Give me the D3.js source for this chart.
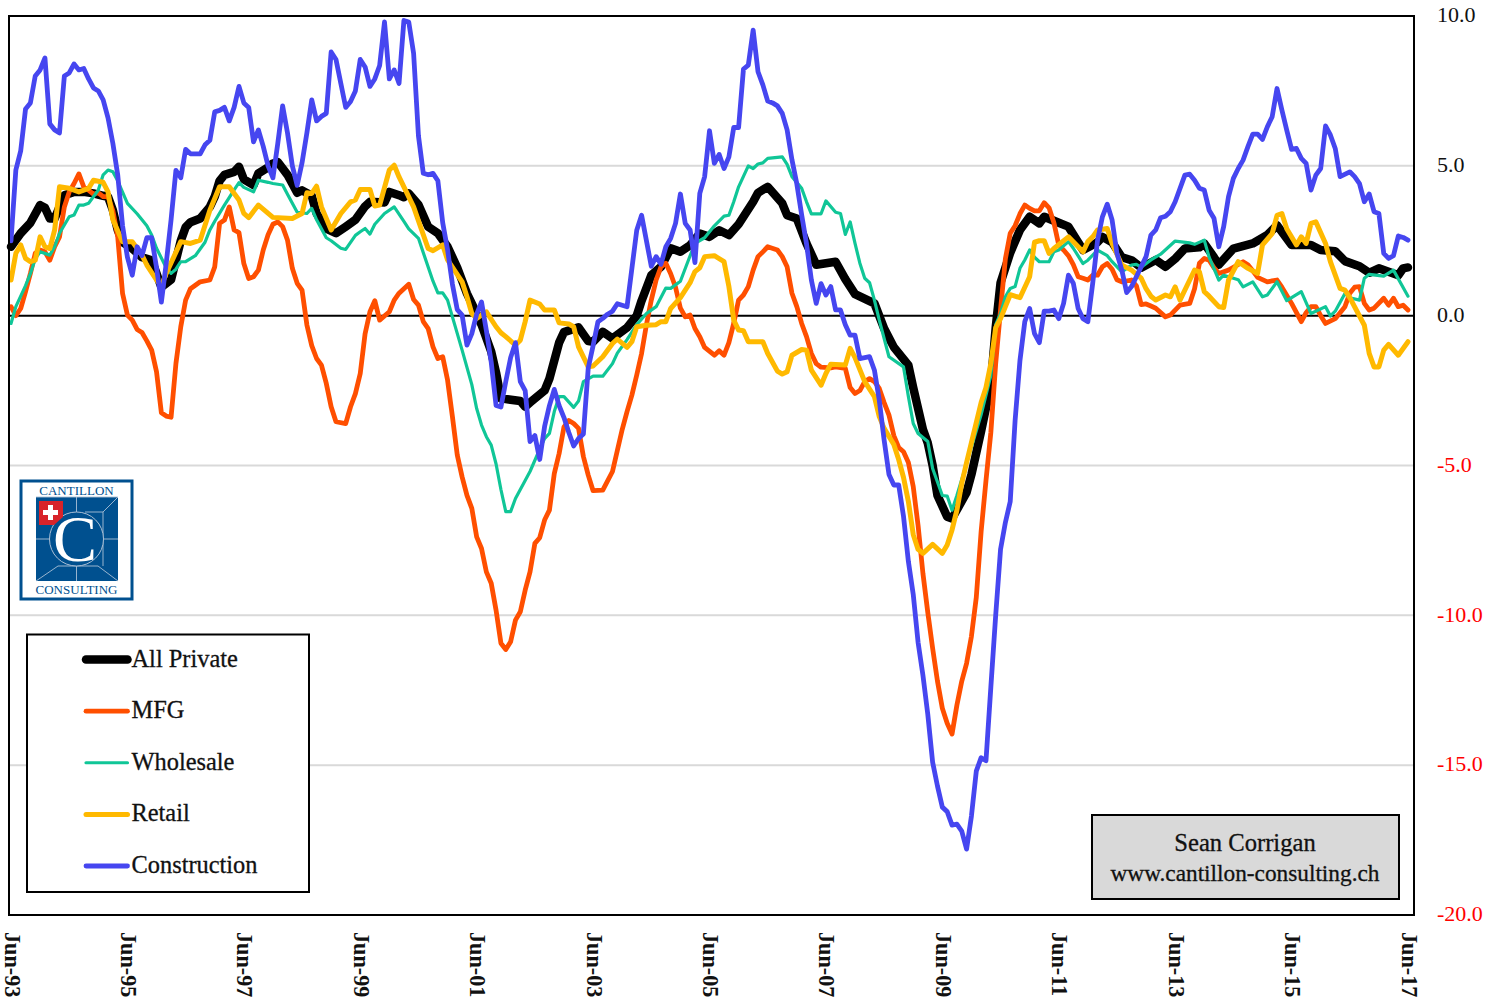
<!DOCTYPE html>
<html><head><meta charset="utf-8">
<script src="https://cdnjs.cloudflare.com/ajax/libs/d3/7.8.5/d3.min.js"></script>
<style>html,body{margin:0;padding:0;background:#fff}svg{display:block}text{font-family:"Liberation Serif",serif;fill:#111}</style>
</head><body><svg id="c" width="1485" height="998"></svg>
<script>
// Each series: [months since Jun-93, % y/y]
const construction = [[0,2.5],[1,4.86],[2,5.5],[3,6.9],[4,7.1],[5,8],[6,8.2],[7,8.6],[8,6.4],[9,6.2],[10,6.1],[11,8],[12,8.1],[13,8.4],[14,8.2],[15,8.25],[16,7.9],[17,7.6],[18,7.5],[19,7.2],[20,6.6],[21,5.75],[22,4.7],[23,3],[24,1.95],[25,1.35],[26,2.3],[27,2],[28,2.6],[29,2.6],[30,1.6],[31,0.45],[32,1.75],[33,3.2],[34,4.85],[35,4.6],[36,5.55],[37,5.4],[38,5.4],[39,5.4],[40,5.7],[41,5.85],[42,6.8],[43,6.85],[44,6.95],[45,6.5],[46,6.95],[47,7.65],[48,7.1],[49,6.95],[50,5.8],[51,6.2],[52,5.65],[53,5],[54,4.6],[55,5.75],[56,7],[57,6.1],[58,5],[59,4.35],[60,5.1],[61,6.1],[62,7.2],[63,6.5],[64,6.65],[65,6.75],[66,8.8],[67,8.55],[68,7.75],[69,6.95],[70,7.15],[71,7.5],[72,8.55],[73,8.3],[74,7.65],[75,7.9],[76,8.35],[77,9.8],[78,7.9],[79,8.2],[80,7.75],[81,9.85],[82,9.8],[83,8.75],[84,6],[85,4.75],[86,4.7],[87,4.75],[88,4.5],[89,3.1],[90,2.2],[91,1.05],[92,0.2],[93,0.02],[94,-0.98],[95,-0.6],[96,0.05],[97,0.46],[98,-0.5],[99,-1.55],[100,-3],[101,-3.05],[102,-2.2],[103,-1.4],[104,-0.9],[105,-2.2],[106,-2.5],[107,-4.2],[108,-4],[109,-4.8],[110,-3.7],[111,-3],[112,-2.46],[113,-3],[114,-3.4],[115,-3.9],[116,-4.35],[117,-4.1],[118,-3.95],[119,-1.75],[120,-1],[121,-0.2],[122,-0.09],[123,0.05],[124,0.15],[125,0.4],[126,0.35],[127,0.3],[129,2.85],[130,3.35],[132,1.65],[133,1.97],[134,1.72],[135,2.3],[136,2.58],[137,3.08],[138,4.06],[139,3.08],[140,2.86],[141,1.77],[142,4.08],[143,4.64],[144,6.17],[145,5.08],[146,5.38],[147,4.91],[148,5.3],[149,6.28],[150,6.28],[151,8.23],[152,8.36],[153,9.53],[154,8.14],[155,7.7],[156,7.16],[157,7.1],[158,7],[159,6.75],[160,6.2],[161,5.2],[162,4.4],[163,3.36],[164,2.4],[165,1.19],[166,0.41],[167,1.07],[168,0.69],[169,0.97],[170,0.19],[171,0.19],[172,-0.3],[173,-0.65],[174,-0.65],[175,-1.43],[176,-1.4],[177,-1.37],[178,-1.82],[179,-2.82],[180,-4.15],[181,-5.3],[182,-5.65],[183,-5.65],[184,-6.7],[185,-8.2],[186,-9.3],[187,-10.9],[188,-12],[189,-13.3],[190,-14.9],[191,-15.7],[192,-16.4],[193,-16.55],[194,-17],[195,-16.97],[196,-17.2],[197,-17.8],[198,-16.7],[199,-15.2],[200,-14.75],[201,-14.85],[202,-12.4],[203,-10],[204,-7.8],[205,-6.9],[206,-6.2],[207,-3.5],[208,-1.5],[209,-0.2],[210,0.24],[211,-0.6],[212,-0.9],[213,0.15],[214,0.15],[215,0.19],[216,-0.1],[217,0.41],[218,1.35],[219,1.08],[220,0.24],[221,-0.1],[222,-0.2],[223,1.08],[224,2.52],[225,3.3],[226,3.72],[227,3.19],[228,2.08],[229,1.52],[230,0.77],[231,0.97],[232,1.3],[234,1.97],[235,2.69],[236,2.86],[237,3.27],[238,3.32],[239,3.47],[240,3.8],[242,4.69],[243,4.72],[244,4.52],[245,4.25],[246,4.19],[247,3.52],[248,3.25],[249,2.3],[250,2.97],[251,3.97],[252,4.58],[253,4.91],[254,5.19],[255,5.64],[256,6.06],[257,6.06],[258,5.88],[259,6.3],[260,6.64],[261,7.58],[262,6.86],[263,6.19],[264,5.55],[265,5.58],[266,5.25],[267,5.08],[268,4.19],[269,4.69],[270,4.91],[271,6.33],[272,6.03],[273,5.58],[274,4.64],[276,4.8],[277,4.64],[278,4.41],[279,3.8],[280,4.06],[281,3.47],[282,3.41],[283,2.08],[284,1.91],[285,2],[286,2.66],[287,2.61],[288,2.52]];
const mfg = [[0,0.3],[1,0],[2,0.24],[3,0.8],[4,1.41],[5,2.08],[6,2.19],[7,2.13],[8,1.85],[9,2.3],[10,2.63],[11,3.63],[12,4.13],[13,4.41],[14,4.73],[15,4.3],[16,4.19],[17,4.05],[18,4.1],[19,3.97],[20,3.97],[21,3.5],[22,2.63],[23,0.74],[24,0.02],[25,-0.15],[26,-0.46],[27,-0.56],[28,-0.84],[29,-1.15],[30,-1.87],[31,-3.24],[32,-3.35],[33,-3.39],[34,-1.6],[35,-0.37],[36,0.52],[37,0.9],[39,1.13],[41,1.19],[42,1.63],[43,3.08],[44,3.19],[45,3.63],[46,2.86],[47,2.77],[48,1.74],[49,1.24],[50,1.3],[51,1.52],[52,2.19],[53,2.7],[54,3.05],[55,3.13],[56,2.97],[57,2.52],[58,1.58],[59,1.08],[60,0.85],[61,-0.31],[62,-1],[63,-1.43],[64,-1.65],[65,-2.26],[66,-3.04],[67,-3.54],[69,-3.6],[70,-3.04],[71,-2.6],[72,-1.93],[73,-0.6],[74,0.13],[75,0.5],[76,-0.15],[78,0.13],[79,0.52],[80,0.75],[82,1.05],[83,0.54],[84,0.35],[85,-0.2],[86,-0.43],[87,-1.04],[88,-1.43],[89,-1.37],[90,-2.15],[91,-3.37],[92,-4.65],[93,-5.38],[94,-6],[95,-6.43],[96,-7.38],[97,-7.77],[98,-8.55],[99,-8.93],[100,-9.83],[101,-10.93],[102,-11.14],[103,-10.88],[104,-10.16],[105,-9.88],[106,-9.16],[107,-8.55],[108,-7.6],[109,-7.41],[110,-6.82],[111,-6.49],[112,-5.27],[113,-4.6],[114,-3.71],[115,-3.5],[116,-3.6],[117,-3.76],[118,-4.7],[119,-5.32],[120,-5.84],[122,-5.82],[124,-5.2],[125,-4.5],[126,-3.8],[127,-3.2],[128,-2.65],[129,-1.98],[130,-1.26],[131,-0.3],[132,0.52],[133,1.19],[134,1.63],[135,1.75],[136,1.4],[137,0.95],[138,0.25],[139,-0.04],[140,0.02],[141,-0.43],[142,-0.7],[143,-1.06],[145,-1.32],[146,-1.17],[147,-1.32],[148,-0.9],[149,-0.25],[150,0.52],[151,0.69],[152,0.97],[153,1.52],[154,1.97],[155,2.13],[156,2.3],[158,2.19],[159,1.97],[160,1.63],[161,0.75],[162,0.3],[163,-0.26],[164,-0.7],[165,-1.26],[166,-1.6],[167,-1.72],[169,-1.74],[170,-1.71],[172,-1.76],[173,-2.4],[174,-2.6],[175,-2.5],[176,-2.2],[177,-2.1],[178,-2.2],[179,-2.43],[180,-2.9],[181,-3.32],[182,-4],[183,-4.4],[184,-4.54],[185,-4.9],[186,-5.7],[187,-7],[188,-8.6],[189,-9.9],[190,-11.1],[191,-12.2],[192,-13.1],[193,-13.6],[194,-13.96],[195,-13],[196,-12.2],[197,-11.6],[198,-10.7],[199,-9.4],[200,-7.2],[201,-5.5],[202,-3.9],[203,-1.6],[204,0.2],[205,1.9],[206,2.75],[207,3],[208,3.4],[209,3.69],[210,3.58],[211,3.5],[212,3.5],[213,3.77],[214,3.6],[215,3.1],[216,2.36],[217,2.19],[218,2],[219,1.7],[220,1.3],[221,1.25],[222,1.19],[223,1.35],[224,1.35],[225,1.63],[226,1.74],[227,1.55],[228,1.2],[229,1.13],[231,1.19],[232,1],[233,0.37],[234,0.39],[235,0.32],[236,0.25],[238,-0.04],[239,0.02],[241,0.35],[243,0.41],[244,0.9],[245,1.75],[246,1.91],[247,1.85],[248,1.6],[249,1.41],[251,1.52],[254,1.8],[255,1.7],[256,1.5],[257,1.28],[259,1.13],[261,1.19],[262,0.95],[264,0.41],[266,-0.2],[267,0.1],[268,0.3],[269,0.3],[270,0],[271,-0.26],[273,-0.1],[275,0.3],[276,0.75],[277,0.95],[278,0.97],[279,0.41],[280,0.19],[281,0.25],[283,0.58],[284,0.35],[285,0.58],[286,0.3],[287,0.35],[288,0.19]];
const wholesale = [[0,-0.26],[1,0.3],[3,1],[4,1.4],[5,1.9],[6,2.13],[8,2.02],[9,2.3],[10,2.75],[12,3.3],[13,3.36],[14,3.69],[15,3.69],[16,3.75],[18,4.19],[19,4.7],[20,4.86],[21,4.8],[22,4.5],[24,3.75],[26,3.4],[28,3],[29,2.69],[30,2.25],[32,1.6],[33,1.41],[34,1.55],[35,1.8],[36,1.8],[38,2],[40,2.45],[41,2.86],[42,3.15],[44,3.69],[46,4.2],[47,4.44],[48,4.28],[50,4.13],[51,4.52],[53,4.45],[54,4.41],[56,4.36],[57,4.05],[59,3.45],[61,3.41],[62,3.58],[63,3.2],[65,2.6],[66,2.5],[68,2.25],[69,2.21],[71,2.68],[72,2.8],[73,2.91],[74,2.72],[75,3.05],[77,3.41],[79,3.63],[81,3.15],[82,2.9],[84,2.58],[85,2.1],[87,1.15],[88,0.76],[89,0.76],[90,0.52],[91,-0.04],[93,-1.15],[95,-2.3],[96,-3.1],[97,-3.65],[98,-4.04],[99,-4.32],[100,-4.95],[101,-5.8],[102,-6.54],[103,-6.54],[104,-6.1],[106,-5.5],[107,-5.2],[109,-4.45],[110,-4.1],[111,-3.93],[112,-3.2],[113,-2.7],[114,-2.7],[116,-3.06],[117,-2.85],[118,-2.2],[120,-2.02],[122,-2.02],[124,-1.6],[125,-1.25],[127,-0.8],[129,-0.3],[131,0.07],[133,0.3],[135,0.92],[136,0.91],[138,1.15],[140,2],[141,2.41],[143,2.6],[145,3],[147,3.32],[148,3.35],[149,3.8],[150,4.3],[151,4.65],[152,5],[153,4.91],[154,5.06],[155,5.1],[156,5.25],[159,5.3],[160,5.05],[161,4.64],[163,4.25],[164,3.8],[165,3.4],[167,3.4],[168,3.83],[170,3.45],[171,3.41],[172,2.71],[173,3.13],[174,2.41],[175,1.75],[176,1.25],[177,1.1],[178,0.52],[179,-0.15],[181,-1.37],[184,-1.71],[185,-2.7],[186,-3.6],[187,-3.93],[189,-4.2],[190,-5.1],[192,-6],[193,-6.02],[194,-6.49],[195,-6],[197,-4.93],[200,-3.3],[202,-2],[203,-0.3],[204,0.07],[205,0.63],[206,0.91],[207,0.97],[208,1.58],[209,1.86],[210,2.19],[211,1.95],[212,1.8],[214,1.8],[215,2.13],[216,2.19],[218,2.47],[219,2.25],[221,1.74],[222,1.85],[224,2.19],[226,2],[227,1.8],[229,1.46],[231,1.69],[232,1.71],[233,1.62],[235,1.86],[237,2.05],[240,2.49],[243,2.43],[244,2.38],[246,2.52],[247,1.95],[249,1.19],[250,1.35],[251,1.3],[253,1.2],[254,0.96],[256,1.13],[258,0.63],[259,0.69],[261,1.13],[263,0.5],[266,0.8],[268,0.07],[271,0.3],[272,-0.01],[273,0.15],[275,0.74],[276,0.6],[278,0.52],[279,1.25],[280,1.38],[283,1.32],[285,1.52],[288,0.65]];
const retail = [[0,1.19],[1,2.08],[2,2.36],[3,1.91],[4,1.8],[5,1.85],[6,2.63],[7,2.3],[8,2.24],[9,2.86],[10,4.3],[12,4.25],[14,4.13],[16,4.25],[17,4.52],[19,4.45],[20,4.13],[21,3.2],[23,2.47],[25,2.47],[27,2.02],[28,1.69],[30,1.19],[31,1],[32,1.41],[35,2.47],[37,2.41],[39,2.52],[41,3.52],[43,4.3],[45,4.3],[47,3.86],[48,3.41],[49,3.27],[51,3.69],[54,3.28],[58,3.24],[60,3.41],[61,4.1],[62,4.08],[63,4.32],[64,3.63],[66,2.86],[68,3.41],[70,3.8],[71,3.86],[72,4.21],[74,4.21],[75,3.66],[76,3.69],[78,4.86],[79,5.02],[80,4.63],[83,3.63],[85,2.7],[86,2.24],[87,2.17],[89,2.36],[90,1.86],[93,1.13],[94,0.63],[95,0.07],[96,-0.09],[98,0.13],[100,-0.37],[101,-0.57],[102,-0.7],[104,-0.98],[105,-0.82],[106,-0.2],[107,0.52],[109,0.39],[110,0.19],[112,0.19],[113,-0.24],[115,-0.28],[116,-0.37],[117,-1.04],[119,-1.71],[120,-1.68],[122,-1.37],[124,-0.93],[125,-0.78],[127,-1.06],[128,-0.87],[129,-0.37],[131,-0.32],[133,-0.3],[134,-0.2],[135,-0.2],[136,0.24],[138,0.6],[140,1.1],[141,1.47],[142,1.6],[143,1.97],[145,2],[147,1.8],[148,0.97],[149,-0.15],[150,-0.48],[151,-0.5],[152,-0.87],[155,-0.87],[156,-1.26],[158,-1.85],[159,-1.95],[160,-1.87],[161,-1.32],[163,-1.13],[164,-1.15],[165,-1.82],[167,-2.32],[168,-1.93],[169,-1.62],[172,-1.65],[173,-1.09],[174,-1.4],[176,-2.2],[178,-2.7],[179,-3.37],[180,-3.76],[182,-4.3],[183,-4.8],[184,-5.4],[185,-6.2],[186,-7.3],[187,-7.8],[188,-7.93],[190,-7.63],[192,-7.93],[193,-7.65],[194,-7.15],[195,-6.49],[196,-5.6],[197,-4.9],[200,-2.9],[201,-2.4],[202,-1.6],[203,-0.4],[204,-0.1],[205,0.3],[206,0.7],[208,0.6],[210,1.3],[211,2.45],[212,2.5],[213,2.5],[214,2.08],[215,2.24],[218,2.63],[221,2.13],[222,2.47],[223,2.63],[224,2.86],[226,2.91],[227,2.41],[229,1.69],[231,1.52],[233,1.25],[234,0.9],[235,0.65],[236,0.52],[238,0.69],[239,0.63],[240,0.96],[241,0.52],[243,1.19],[244,1.52],[245,1.46],[246,0.8],[247,0.65],[249,0.3],[250,0.27],[251,1.19],[253,1.8],[255,1.58],[257,1.41],[258,2.36],[260,2.74],[261,3.35],[262,3.41],[263,2.9],[265,2.36],[266,2.63],[267,2.41],[268,3.08],[269,3.13],[271,2.41],[272,1.8],[274,0.91],[275,0.85],[276,0.6],[279,-0.32],[280,-1.26],[281,-1.71],[282,-1.71],[283,-1.15],[284,-0.96],[286,-1.32],[288,-0.87]];
const allPrivate = [[0,2.3],[2,2.75],[4,3.1],[6,3.69],[7,3.6],[8,3.24],[9,3.24],[10,3.63],[11,4.02],[13,4.13],[15,4.13],[17,4.08],[19,4],[20,3.97],[21,3.52],[22,2.86],[23,2.45],[25,2.24],[27,1.95],[29,1.85],[30,1.41],[31,0.95],[33,1.2],[34,1.85],[35,2.5],[36,2.95],[37,3.12],[39,3.24],[41,3.63],[42,3.97],[43,4.5],[44,4.7],[46,4.8],[47,4.97],[48,4.55],[50,4.36],[51,4.75],[53,4.95],[54,5.08],[55,5.13],[57,4.7],[59,4.1],[60,4.18],[62,4],[63,3.41],[65,2.9],[67,2.75],[69,2.97],[71,3.2],[73,3.65],[74,3.8],[77,3.78],[78,4.13],[80,4.02],[81,3.95],[82,4.08],[84,3.7],[86,2.97],[88,2.75],[90,2.3],[92,1.6],[94,0.74],[95,0.4],[97,-0.3],[99,-1.2],[100,-1.9],[101,-2.76],[105,-2.85],[106,-3.04],[107,-2.9],[110,-2.5],[111,-2.1],[113,-0.9],[114,-0.55],[117,-0.39],[119,-0.85],[120,-0.87],[122,-0.54],[124,-0.76],[127,-0.4],[129,0],[130,0.5],[132,1.35],[134,1.63],[136,2.25],[138,2.13],[140,2.35],[142,2.74],[144,2.63],[146,2.85],[148,2.69],[150,3.05],[153,3.8],[154,4.1],[156,4.3],[159,3.75],[160,3.35],[162,3.24],[164,2.41],[166,1.7],[168,1.75],[170,1.8],[172,1.22],[174,0.72],[178,0.41],[180,-0.43],[182,-1.05],[185,-1.65],[186,-2.4],[188,-3.8],[189,-4.25],[190,-5],[191,-6],[193,-6.71],[194,-6.77],[197,-5.9],[198,-5.3],[200,-3.85],[202,-2.3],[203,-0.4],[204,1.1],[206,2.1],[208,2.86],[210,3.3],[212,3.08],[213,3.3],[216,3.1],[218,2.97],[220,2.45],[221,2.19],[224,2.45],[225,2.63],[227,2.45],[229,1.95],[231,1.85],[233,1.6],[236,1.86],[238,1.63],[240,1.9],[242,2.24],[245,2.28],[246,2.41],[248,1.95],[249,1.7],[252,2.24],[256,2.41],[259,2.69],[261,3.02],[264,2.36],[268,2.36],[270,2.19],[273,2.15],[275,1.82],[278,1.65],[280,1.43],[282,1.58],[286,1.35],[287,1.58],[288,1.61]];

const seriesNames = ["All Private","MFG","Wholesale","Retail","Construction"];
const seriesData = [allPrivate,mfg,wholesale,retail,construction];
const seriesColors = ["#000000","#ff4f00","#10c697","#ffb900","#4646f0"];
const seriesWidths = [8.5,4.8,3.2,5,4.8];
const xTickMonths = d3.range(0,289,24);
const xTickLabels = ["Jun-93","Jun-95","Jun-97","Jun-99","Jun-01","Jun-03","Jun-05","Jun-07","Jun-09","Jun-11","Jun-13","Jun-15","Jun-17"];
const yTicks = [10,5,0,-5,-10,-15,-20];
const footerLines = ["Sean Corrigan","www.cantillon-consulting.ch"];
const footerSizes = [24.6,23.3];

const svg = d3.select("#c");
const P = {l:9,r:1414,t:16,b:915};
const x = d3.scaleLinear().domain([0,288]).range([11,1408]);
const y = d3.scaleLinear().domain([-20,10]).range([P.b,P.t]);

// gridlines
svg.append("g").selectAll("line").data(yTicks.filter(v=>v!==0&&v!==10&&v!==-20)).join("line")
  .attr("x1",P.l).attr("x2",P.r).attr("y1",d=>y(d)).attr("y2",d=>y(d))
  .attr("stroke","#d9d9d9").attr("stroke-width",2);

// zero line
svg.append("line").attr("x1",P.l).attr("x2",P.r).attr("y1",y(0)).attr("y2",y(0))
  .attr("stroke","#000").attr("stroke-width",2);

// series
const line = d3.line().x(d=>x(d[0])).y(d=>y(d[1])).curve(d3.curveLinear);
svg.append("g").selectAll("path").data(seriesData).join("path")
  .attr("d",line).attr("fill","none")
  .attr("stroke",(d,i)=>seriesColors[i]).attr("stroke-width",(d,i)=>seriesWidths[i])
  .attr("stroke-linejoin","round").attr("stroke-linecap","round");

// frame
svg.append("rect").attr("x",P.l).attr("y",P.t).attr("width",P.r-P.l).attr("height",P.b-P.t)
  .attr("fill","none").attr("stroke","#000").attr("stroke-width",2);

// y axis labels
const yAxis = d3.axisRight(y).tickValues(yTicks).tickFormat(d=>d.toFixed(1)).tickSize(0).tickPadding(0);
const gy = svg.append("g").attr("transform",`translate(1437,-1.5)`).call(yAxis);
gy.select(".domain").remove();
gy.selectAll("text").style("font-family",'"Liberation Serif",serif').style("font-size","22px")
  .attr("dy","0.33em").style("fill",d=>d<0?"#ff0000":"#111");

// x axis labels
const xAxis = d3.axisBottom(x).tickValues(xTickMonths).tickFormat((d,i)=>xTickLabels[i]).tickSize(0).tickPadding(0);
const gx = svg.append("g").attr("transform",`translate(0,932)`).call(xAxis);
gx.select(".domain").remove();
gx.selectAll("text").attr("y",0).attr("dy",0).attr("transform","rotate(90) translate(0,7)")
  .attr("text-anchor","start").style("font-family",'"Liberation Serif",serif')
  .style("font-size","22.2px").style("font-weight","700").style("fill","#111");

// legend
const lg = svg.append("g");
lg.append("rect").attr("x",27).attr("y",634.5).attr("width",282).attr("height",257.5)
  .attr("fill","#fff").attr("stroke","#000").attr("stroke-width",2);
const legendY = d3.scalePoint().domain(seriesNames).range([659.5,866]);
seriesNames.forEach((n,i)=>{
  lg.append("line").attr("x1",86).attr("x2",127.5).attr("y1",legendY(n)).attr("y2",legendY(n))
    .attr("stroke",seriesColors[i]).attr("stroke-width",seriesWidths[i]).attr("stroke-linecap","round");
  lg.append("text").attr("x",131.5).attr("y",legendY(n)+7).attr("font-size",24.4)
    .attr("stroke","#111").attr("stroke-width",0.3).text(n);
});

// footer box
svg.append("rect").attr("x",1092).attr("y",815).attr("width",307).attr("height",84)
  .attr("fill","#d9d9d9").attr("stroke","#000").attr("stroke-width",2);
footerLines.forEach((t,i)=>svg.append("text").attr("x",1245).attr("y",851+i*30)
  .attr("text-anchor","middle").attr("font-size",footerSizes[i])
  .attr("stroke","#111").attr("stroke-width",0.3).text(t));

// logo
const lo = svg.append("g");
const blue="#00508f", pale="#a9bfd6";
lo.append("rect").attr("x",21).attr("y",481).attr("width",111).attr("height",118).attr("fill","#fff").attr("stroke",blue).attr("stroke-width",3);
lo.append("text").attr("x",76.5).attr("y",495).attr("text-anchor","middle").attr("font-size",13).style("fill",blue).text("CANTILLON");
lo.append("text").attr("x",76.5).attr("y",593.5).attr("text-anchor","middle").attr("font-size",13).style("fill",blue).text("CONSULTING");
lo.append("rect").attr("x",36).attr("y",497).attr("width",82).attr("height",84).attr("fill",blue);
[[36,497,118,497],[76.5,497,76.5,512],[76.5,566,76.5,581],[36,539,50,539],[103,539,118,539],[36,581,58,566],[118,581,98,566],[58,566,98,566],[118,497,103,512],[103,512,103,566],[103,512,85,512]].forEach(s=>
  lo.append("line").attr("x1",s[0]).attr("y1",s[1]).attr("x2",s[2]).attr("y2",s[3]).attr("stroke",pale).attr("stroke-width",0.9));
lo.append("circle").attr("cx",76.5).attr("cy",539).attr("r",27).attr("fill",blue).attr("stroke",pale).attr("stroke-width",1);
lo.append("text").attr("x",75).attr("y",561).attr("text-anchor","middle").attr("font-size",66).style("fill","#fff").text("C");
lo.append("path").attr("d","M39,501H63V517L54,525H39Z").attr("fill","#d8232a");
lo.append("path").attr("d","M48,505h5v5h5v5h-5v5h-5v-5h-5v-5h5Z").attr("fill","#fff");
</script></body></html>
